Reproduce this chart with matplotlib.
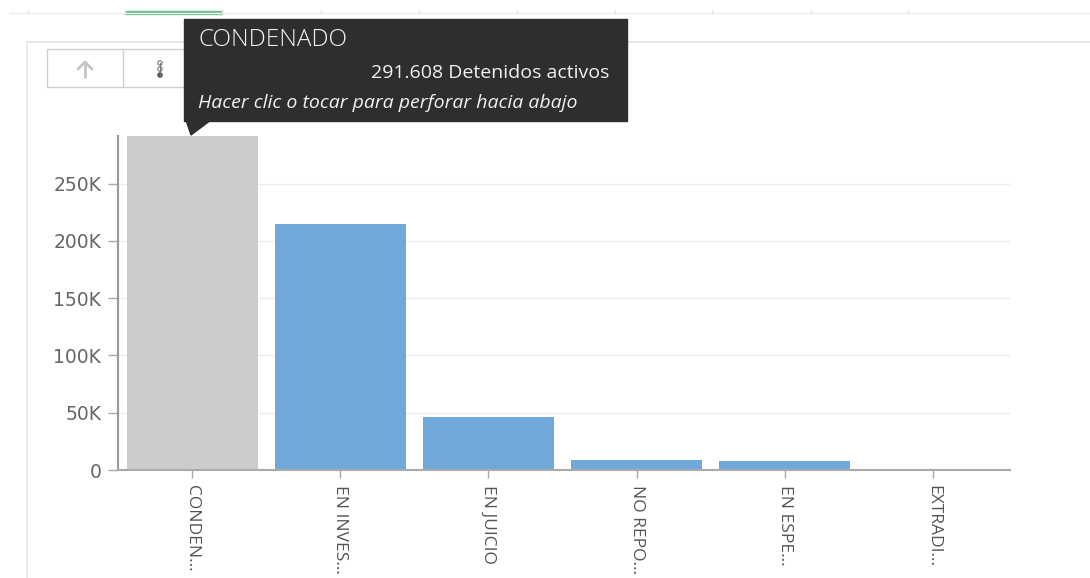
import matplotlib.pyplot as plt
from matplotlib.patches import Rectangle, Polygon, Circle
from matplotlib.ticker import FuncFormatter

# Detenidos activos por situación jurídica
categorias = ["CONDEN...", "EN INVES...", "EN JUICIO", "NO REPO...", "EN ESPE...", "EXTRADI..."]
detenidos = [291608, 214800, 46300, 8700, 7900, 120]
seleccionada = 0  # barra resaltada por el tooltip

titulo_tooltip = "CONDENADO"
valor_tooltip = "291.608 Detenidos activos"
ayuda_tooltip = "Hacer clic o tocar para perforar hacia abajo"

plt.rcParams['font.family'] = ['Open Sans', 'DejaVu Sans']

W, H = 1090, 578
fig = plt.figure(figsize=(W / 100, H / 100), dpi=100)

# capa en pixeles para el marco del panel, la barra de botones y el tooltip
deco = fig.add_axes([0, 0, 1, 1], zorder=0)
deco.set_xlim(0, W)
deco.set_ylim(H, 0)
deco.axis("off")

ax = fig.add_axes([118 / W, 1 - 470 / H, (1010 - 118) / W, (470 - 136) / H], zorder=1)
ax.patch.set_alpha(0)

colores = ["#cccccc" if i == seleccionada else "#6fa8d9" for i in range(len(categorias))]
ax.bar(range(len(categorias)), detenidos, width=0.885, color=colores, zorder=2)

ax.set_xlim(-0.5, 5.52)
ax.set_ylim(0, max(detenidos))
ax.set_yticks([0, 50000, 100000, 150000, 200000, 250000])
ax.yaxis.set_major_formatter(FuncFormatter(lambda v, p: "0" if v == 0 else f"{int(v / 1000)}K"))
ax.set_xticks(range(len(categorias)))
ax.set_xticklabels(categorias, rotation=270, va="top", ha="center")
ax.grid(axis="y", color="#eeeeee", linewidth=1, zorder=0)

for s in ["top", "right"]:
    ax.spines[s].set_visible(False)
ax.spines["left"].set_color("#999999")
ax.spines["left"].set_linewidth(1.5)
ax.spines["bottom"].set_color("#aaaaaa")
ax.spines["bottom"].set_linewidth(1.5)
ax.tick_params(axis="y", length=7, width=1, color="#aaaaaa", pad=5, labelcolor="#666666")
ax.tick_params(axis="x", length=6, width=1, color="#aaaaaa", pad=5, labelsize=12.5, labelcolor="#555555")
for lbl in ax.get_yticklabels():
    lbl.set_fontfamily("DejaVu Sans")
    lbl.set_fontsize(13.5)

# franja superior con la pestaña activa
deco.plot([10, W], [13, 13], color="#eeeeee", lw=1)
for xt in [28, 125, 222, 321, 419, 517, 615, 712, 811, 908]:
    deco.plot([xt, xt], [10, 13], color="#e6e6e6", lw=1)
deco.add_patch(Rectangle((125, 11), 97, 3, color="#6cc08b"))

# marco del panel
deco.plot([27, W], [42, 42], color="#e3e3e3", lw=1.2)
deco.plot([27, 27], [42, H], color="#e8e8e8", lw=1.2)

# botones de navegación
deco.add_patch(Rectangle((47, 49), 153, 38, facecolor="white", edgecolor="#d0d0d0", lw=1))
deco.plot([123, 123], [49, 87], color="#d0d0d0", lw=1)
deco.plot([85, 85], [62, 77], color="#c4c4c4", lw=2, solid_capstyle="round")
deco.plot([78, 85, 92], [69, 62, 69], color="#c4c4c4", lw=2, solid_capstyle="round", solid_joinstyle="round")
deco.plot([160, 160], [63, 75], color="#777777", lw=0.8)
deco.add_patch(Circle((160, 63), 2.2, facecolor="white", edgecolor="#777777", lw=0.8))
deco.add_patch(Circle((160, 69), 2.2, facecolor="white", edgecolor="#777777", lw=0.8))
deco.add_patch(Circle((160, 75), 2.2, facecolor="#555555", edgecolor="#555555", lw=0.8))

# tooltip
tip = fig.add_axes([0, 0, 1, 1], zorder=3)
tip.set_xlim(0, W)
tip.set_ylim(H, 0)
tip.axis("off")
tip.add_patch(Rectangle((184, 19), 443, 102, color="#2e2e2e"))
tip.add_patch(Polygon([(186, 120), (211, 120), (191, 135)], closed=True, color="#2e2e2e"))
tip.text(198, 40, titulo_tooltip, color="#f2f2f2", fontsize=17.5, va="center", ha="left", fontweight="light")
tip.text(609, 73, valor_tooltip, color="#f2f2f2", fontsize=14, va="center", ha="right")
tip.text(198, 103, ayuda_tooltip, color="#f2f2f2", fontsize=14, va="center", ha="left", style="italic")

fig.savefig("out.png", dpi=100)
